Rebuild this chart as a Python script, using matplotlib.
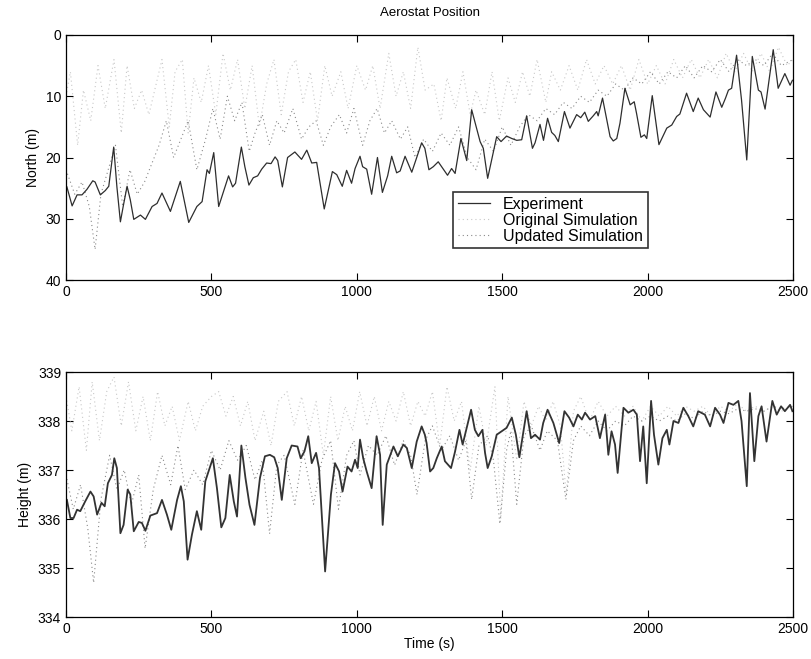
import matplotlib
matplotlib.use('Agg')
import matplotlib.pyplot as plt

plt.rcParams['font.family'] = ['Liberation Sans', 'DejaVu Sans']

# ---- top panel: North (m) ----
t_exp_n = [3, 21, 38, 55, 72, 92, 100, 118, 135, 147, 164, 175, 187, 197, 210, 221, 233, 256, 273, 296,
           313, 330, 359, 393, 422, 450, 468, 485, 493, 508, 525, 559, 573, 583, 603, 615, 629, 644, 659, 673,
           690, 705, 719, 728, 744, 762, 787, 810, 828, 845, 862, 888, 916, 931, 950, 965, 982, 994, 1011, 1020,
           1034, 1051, 1071, 1088, 1106, 1120, 1137, 1149, 1166, 1189, 1223, 1234, 1248, 1263, 1280, 1312, 1326, 1338, 1358, 1378,
           1395, 1424, 1435, 1450, 1481, 1496, 1515, 1533, 1550, 1567, 1584, 1604, 1613, 1630, 1642, 1656, 1670, 1681, 1693, 1714,
           1733, 1756, 1770, 1784, 1796, 1813, 1825, 1830, 1845, 1871, 1882, 1894, 1905, 1922, 1940, 1954, 1962, 1977, 1989, 1997,
           2016, 2039, 2066, 2083, 2100, 2111, 2134, 2157, 2174, 2192, 2215, 2235, 2255, 2268, 2278, 2289, 2306, 2323, 2341, 2360,
           2381, 2390, 2404, 2432, 2449, 2472, 2490, 2498]
v_exp_n = [24.8, 27.9, 26.1, 26.1, 25.2, 23.8, 24.0, 26.1, 25.4, 24.7, 18.3, 24.8, 30.5, 27.9, 24.7, 26.9, 30.1, 29.4, 30.1, 28.0,
           27.5, 25.8, 28.8, 23.9, 30.6, 28.0, 27.2, 22.0, 22.6, 19.2, 28.0, 23.0, 24.8, 24.2, 18.3, 21.5, 24.5, 23.3, 23.0, 21.9,
           20.9, 21.0, 19.9, 20.5, 24.8, 20.0, 19.1, 20.3, 18.8, 20.9, 20.8, 28.4, 22.3, 22.8, 24.7, 22.1, 24.2, 21.8, 19.8, 21.5,
           21.9, 26.0, 20.0, 25.7, 23.0, 19.8, 22.5, 22.2, 19.8, 22.4, 17.6, 18.5, 22.0, 21.5, 20.7, 22.9, 21.8, 22.6, 16.9, 20.5,
           12.2, 17.4, 18.5, 23.4, 16.6, 17.4, 16.5, 16.9, 17.2, 17.1, 13.2, 18.5, 17.6, 14.6, 17.2, 13.6, 15.9, 16.4, 17.4, 12.5,
           15.2, 13.0, 13.5, 12.6, 14.1, 13.2, 12.5, 13.2, 10.3, 16.6, 17.3, 16.9, 14.4, 8.7, 11.4, 10.9, 12.8, 16.7, 16.3, 16.9,
           9.9, 17.9, 15.2, 14.7, 13.3, 12.9, 9.5, 12.5, 10.3, 12.2, 13.4, 9.3, 11.8, 10.3, 9.0, 8.7, 3.3, 10.6, 20.4, 3.5,
           9.0, 9.3, 12.1, 2.4, 8.7, 6.3, 8.2, 7.4]

t_orig_n = [0, 15, 40, 60, 85, 110, 135, 165, 190, 210, 235, 260, 285, 310, 330, 355, 375, 400, 420, 440,
            465, 490, 515, 540, 565, 590, 615, 640, 665, 690, 715, 740, 765, 790, 815, 840, 865, 890, 915, 945,
            970, 1000, 1030, 1055, 1080, 1110, 1135, 1160, 1185, 1210, 1235, 1265, 1290, 1310, 1340, 1365, 1390, 1410, 1440, 1465,
            1490, 1520, 1545, 1570, 1595, 1620, 1650, 1670, 1700, 1730, 1760, 1790, 1820, 1850, 1880, 1910, 1940, 1970, 2000, 2030,
            2060, 2090, 2120, 2150, 2180, 2210, 2240, 2270, 2300, 2330, 2360, 2390, 2420, 2450, 2480, 2500]
v_orig_n = [10, 6, 18, 9, 14, 5, 12, 4, 16, 5, 12, 9, 13, 8, 4, 15, 6, 4, 16, 7,
            11, 5, 13, 3, 9, 4, 12, 5, 15, 8, 4, 13, 6, 4, 11, 6, 14, 5, 10, 6,
            12, 5, 9, 5, 12, 3, 10, 6, 12, 2, 9, 8, 14, 7, 12, 6, 13, 9, 13, 6,
            14, 7, 11, 6, 10, 4, 11, 6, 9, 5, 9, 4, 8, 5, 8, 5, 9, 4, 8, 5,
            8, 4, 7, 4, 7, 4, 7, 3, 6, 3, 6, 3, 6, 2, 5, 4]

t_upd_n = [0, 30, 55, 80, 100, 120, 145, 170, 195, 220, 245, 270, 295, 320, 345, 370, 395, 420, 450, 480,
           505, 530, 555, 580, 605, 630, 650, 675, 700, 725, 750, 780, 810, 835, 860, 885, 910, 940, 965, 990,
           1020, 1045, 1070, 1095, 1120, 1150, 1175, 1200, 1230, 1260, 1290, 1320, 1350, 1380, 1410, 1440, 1470, 1500, 1530, 1560,
           1590, 1620, 1650, 1680, 1710, 1740, 1770, 1800, 1830, 1860, 1890, 1920, 1950, 1980, 2010, 2040, 2070, 2100, 2130, 2160,
           2190, 2220, 2250, 2280, 2310, 2340, 2370, 2400, 2430, 2460, 2500]
v_upd_n = [22, 26, 24, 28, 35, 26, 22, 18, 28, 22, 26, 24, 21, 18, 14, 20, 17, 14, 22, 17,
           12, 17, 10, 14, 11, 19, 16, 13, 18, 14, 16, 12, 17, 15, 14, 18, 15, 13, 16, 12,
           18, 14, 12, 16, 14, 17, 15, 20, 17, 19, 16, 18, 15, 20, 22, 17, 19, 15, 18, 15,
           13, 14, 12, 13, 11, 12, 10, 11, 9, 10, 8, 9, 7, 8, 6, 8, 6, 7, 5, 7,
           5, 6, 4, 6, 4, 5, 4, 5, 3, 5, 4]

# ---- bottom panel: Height (m) ----
t_exp_h = [3, 15, 26, 38, 49, 66, 84, 95, 107, 122, 133, 144, 158, 166, 175, 187, 198, 212, 221, 233,
           250, 261, 273, 290, 313, 330, 347, 362, 382, 395, 405, 418, 433, 450, 465, 479, 490, 505, 519, 534,
           548, 563, 577, 588, 603, 617, 631, 648, 667, 684, 701, 716, 728, 742, 759, 776, 796, 807, 820, 833,
           845, 860, 870, 891, 911, 925, 939, 951, 968, 982, 994, 1003, 1011, 1022, 1034, 1051, 1068, 1080, 1089, 1103,
           1126, 1141, 1160, 1172, 1189, 1206, 1223, 1234, 1240, 1252, 1263, 1275, 1292, 1303, 1324, 1338, 1353, 1364, 1378, 1393,
           1406, 1418, 1432, 1441, 1450, 1464, 1481, 1498, 1515, 1533, 1547, 1559, 1573, 1584, 1599, 1613, 1630, 1641, 1656, 1676,
           1696, 1714, 1730, 1745, 1760, 1774, 1785, 1802, 1820, 1836, 1854, 1865, 1876, 1888, 1897, 1917, 1934, 1951, 1963, 1974,
           1985, 1997, 2012, 2022, 2037, 2051, 2066, 2075, 2089, 2106, 2123, 2140, 2157, 2174, 2197, 2215, 2232, 2249, 2261, 2278,
           2295, 2312, 2323, 2341, 2352, 2367, 2381, 2392, 2409, 2429, 2444, 2459, 2472, 2490, 2498]
v_exp_h = [336.39, 336.02, 336.02, 336.19, 336.16, 336.36, 336.56, 336.46, 336.09, 336.33, 336.26, 336.73, 336.90, 337.24, 337.04, 335.71, 335.88, 336.60, 336.50, 335.75,
           335.94, 335.92, 335.76, 336.07, 336.12, 336.39, 336.09, 335.78, 336.39, 336.67, 336.36, 335.17, 335.68, 336.16, 335.78, 336.77, 336.97, 337.24, 336.63, 335.83,
           336.02, 336.90, 336.36, 336.05, 337.50, 336.84, 336.29, 335.88, 336.84, 337.28, 337.31, 337.26, 337.04, 336.39, 337.24, 337.50, 337.48, 337.24, 337.38, 337.69,
           337.14, 337.35, 337.04, 334.93, 336.50, 337.14, 336.97, 336.56, 337.07, 336.97, 337.21, 337.04, 337.62, 337.24, 336.97, 336.63, 337.69, 337.31, 335.88, 337.11,
           337.48, 337.28, 337.52, 337.45, 337.04, 337.58, 337.89, 337.72, 337.55, 336.97, 337.04, 337.24, 337.48, 337.18, 337.04, 337.38, 337.82, 337.52, 337.86, 338.23,
           337.82, 337.69, 337.82, 337.35, 337.04, 337.28, 337.72, 337.79, 337.86, 338.07, 337.72, 337.26, 337.79, 338.20, 337.65, 337.72, 337.62, 337.96, 338.23, 337.96,
           337.55, 338.20, 338.07, 337.89, 338.13, 338.03, 338.17, 338.03, 338.10, 337.65, 338.13, 337.31, 337.79, 337.52, 336.94, 338.27, 338.17, 338.23, 338.13, 337.18,
           337.89, 336.73, 338.41, 337.72, 337.11, 337.65, 337.82, 337.52, 338.00, 337.96, 338.27, 338.10, 337.89, 338.20, 338.13, 337.89, 338.27, 338.13, 337.96, 338.37,
           338.33, 338.41, 338.00, 336.67, 338.57, 337.18, 338.10, 338.30, 337.58, 338.41, 338.13, 338.30, 338.20, 338.33, 338.20]

t_orig_h = [0, 20, 45, 70, 90, 115, 140, 165, 190, 215, 240, 265, 290, 315, 340, 365, 390, 420, 445, 470,
            500, 525, 550, 575, 600, 625, 650, 680, 705, 730, 760, 785, 810, 835, 860, 885, 910, 935, 960, 985,
            1010, 1035, 1060, 1085, 1110, 1135, 1160, 1185, 1210, 1235, 1260, 1285, 1310, 1335, 1360, 1390, 1420, 1445, 1475, 1495,
            1520, 1550, 1575, 1600, 1625, 1650, 1675, 1700, 1720, 1745, 1770, 1800, 1830, 1860, 1890, 1920, 1950, 1980, 2010, 2040,
            2070, 2100, 2130, 2160, 2190, 2220, 2250, 2280, 2310, 2340, 2370, 2400, 2430, 2460, 2500]
v_orig_h = [338.5, 337.8, 338.7, 337.4, 338.8, 337.6, 338.6, 338.9, 337.9, 338.8, 337.8, 338.5, 337.6, 338.6, 337.9, 338.3, 337.6, 338.4, 337.8, 338.3,
            338.5, 338.6, 338.1, 338.5, 337.9, 338.4, 337.6, 338.2, 337.5, 338.4, 338.6, 337.9, 338.5, 337.8, 338.4, 337.3, 338.5, 337.6, 338.3, 337.8,
            338.6, 337.9, 338.5, 337.8, 338.4, 338.0, 338.6, 337.9, 338.4, 338.1, 338.6, 337.5, 338.7, 338.0, 338.4, 337.0, 338.3, 337.5, 338.7, 336.0,
            338.5, 337.2, 338.4, 337.9, 338.3, 338.0, 338.4, 337.9, 336.5, 338.2, 338.5, 338.0, 338.4, 338.1, 338.3, 338.1, 338.3, 338.0, 338.3, 338.1,
            338.3, 338.1, 338.3, 338.2, 338.3, 338.1, 338.3, 338.2, 338.35, 338.2, 338.3, 338.2, 338.3, 338.2, 338.3]

t_upd_h = [0, 25, 50, 75, 95, 120, 150, 175, 200, 225, 250, 272, 300, 330, 360, 385, 410, 440, 470, 500,
           530, 560, 590, 620, 650, 675, 700, 725, 750, 787, 815, 851, 880, 910, 937, 965, 990, 1011, 1040, 1070,
           1100, 1130, 1160, 1185, 1207, 1235, 1260, 1290, 1320, 1350, 1375, 1395, 1420, 1450, 1470, 1492, 1515, 1530, 1550, 1575,
           1600, 1630, 1655, 1690, 1719, 1745, 1770, 1800, 1830, 1860, 1890, 1920, 1950, 1980, 2010, 2040, 2070, 2100, 2130, 2160,
           2190, 2220, 2250, 2280, 2310, 2340, 2370, 2400, 2430, 2460, 2500]
v_upd_h = [336.9, 336.2, 336.7, 335.8, 334.7, 336.4, 337.3, 336.6, 337.0, 336.3, 336.9, 335.4, 336.6, 337.3, 336.7, 337.5, 336.6, 337.0, 336.7, 337.4,
           337.0, 337.6, 337.2, 337.5, 336.8, 337.2, 335.7, 337.1, 337.3, 336.3, 337.4, 336.3, 337.2, 337.6, 336.2, 337.3, 337.6, 336.9, 337.5, 337.3,
           337.7, 337.1, 337.6, 337.3, 336.5, 337.6, 337.9, 337.4, 337.7, 337.2, 337.6, 336.4, 337.5, 337.7, 337.2, 335.9, 337.4, 337.8, 336.3, 337.7,
           337.9, 337.4, 337.8, 337.6, 336.4, 337.6, 337.9, 337.7, 338.0, 337.8, 338.0, 337.9, 338.1, 338.0, 338.1, 338.0, 338.1, 338.0, 338.15, 338.05,
           338.2, 338.1, 338.2, 338.15, 338.25, 338.2, 338.25, 338.2, 338.3, 338.25, 338.3]

fig = plt.figure(figsize=(8.11, 6.59), dpi=100)
ax1 = fig.add_axes([0.0814, 0.5751, 0.8964, 0.3718])
ax2 = fig.add_axes([0.0814, 0.0637, 0.8964, 0.3718])

dots = (0, (1, 2.8))

ax1.plot(t_orig_n, v_orig_n, color='#c8c8c8', lw=0.8, ls=dots, label='Original Simulation')
ax1.plot(t_upd_n, v_upd_n, color='#8a8a8a', lw=0.8, ls=dots, label='Updated Simulation')
ax1.plot(t_exp_n, v_exp_n, color='#2e2e2e', lw=0.9, label='Experiment')

ax2.plot(t_orig_h, v_orig_h, color='#c8c8c8', lw=0.8, ls=dots)
ax2.plot(t_upd_h, v_upd_h, color='#8a8a8a', lw=0.8, ls=dots)
ax2.plot(t_exp_h, v_exp_h, color='#333333', lw=1.3)

ax1.set_xlim(0, 2500)
ax1.set_ylim(40, 0)
ax1.set_yticks([0, 10, 20, 30, 40])
ax2.set_xlim(0, 2500)
ax2.set_ylim(334, 339)

for ax in (ax1, ax2):
    ax.set_xticks([0, 500, 1000, 1500, 2000, 2500])
    ax.tick_params(direction='in', top=True, right=True, labelsize=10, length=5, width=0.8)
    for s in ax.spines.values():
        s.set_linewidth(0.9)

ax1.set_title('Aerostat Position', fontsize=9.5, pad=14)
ax1.set_ylabel('North (m)', fontsize=10)
ax2.set_ylabel('Height (m)', fontsize=10)
ax2.set_xlabel('Time (s)', fontsize=10, labelpad=1)

h, l = ax1.get_legend_handles_labels()
leg = ax1.legend([h[2], h[0], h[1]], [l[2], l[0], l[1]], loc='lower left',
                 bbox_to_anchor=(0.533, 0.129), fontsize=11.5, frameon=True,
                 fancybox=False, handlelength=2.0, borderpad=0.3, labelspacing=0.05,
                 handletextpad=0.8, borderaxespad=0)
leg.get_frame().set_edgecolor('black')
leg.get_frame().set_linewidth(1.2)

fig.savefig('out.png', dpi=100)
